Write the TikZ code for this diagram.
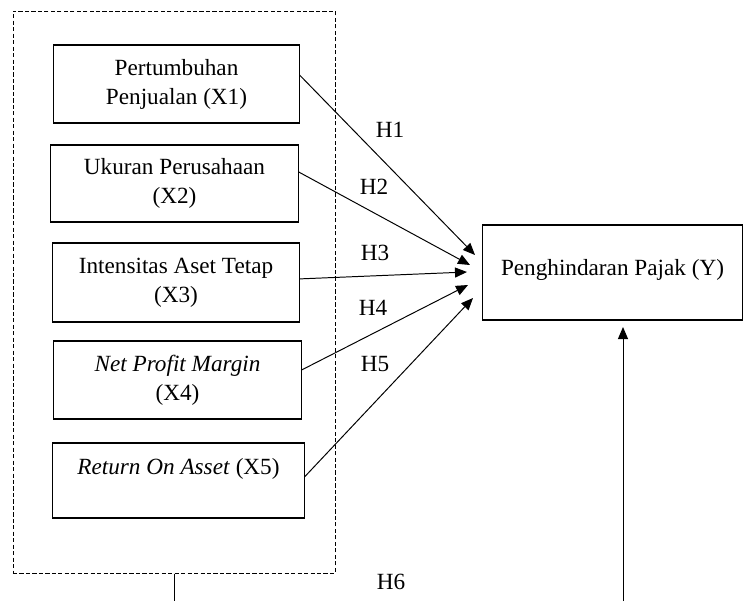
\documentclass[tikz,border=0pt]{standalone}
\usepackage{fontspec}
\setmainfont{Liberation Serif}
\usetikzlibrary{arrows.meta}
\begin{document}
\begin{tikzpicture}[x=0.025cm,y=-0.025cm,
  every node/.style={font=\fontsize{16.5pt}{20.6pt}\selectfont},
  var/.style={draw,line width=0.75pt,align=center,inner sep=0pt},
  hyp/.style={-{Triangle[length=3mm,width=2.5mm]},line width=0.7pt}]
\useasboundingbox (0,0) rectangle (744,601);

% group of independent variables
\node[draw,line width=0.6pt,dash pattern=on 3pt off 1.6pt,minimum width=8.05cm,minimum height=14.05cm] (grp) at (174,292) {};

\node[var,minimum width=6.125cm,minimum height=1.95cm] (x1) at (176.5,84) {Pertumbuhan\\Penjualan (X1)};
\node[var,minimum width=6.175cm,minimum height=1.925cm] (x2) at (174.5,183.5) {Ukuran Perusahaan\\(X2)};
\node[var,minimum width=6.15cm,minimum height=1.975cm] (x3) at (176,282.5) {Intensitas Aset Tetap\\(X3)};
\node[var,minimum width=6.175cm,minimum height=1.95cm] (x4) at (177.5,380) {\textit{Net Profit Margin}\\(X4)};
\node[var,minimum width=6.275cm,minimum height=1.875cm] (x5) at (178.5,480.5) {\textit{Return On Asset} (X5)\\\mbox{}};

\node[var,minimum width=6.475cm,minimum height=2.375cm] (y) at (612.5,272.5) {\raisebox{7pt}{Penghindaran Pajak (Y)}};

% arrow ends in front of Y
\coordinate (t1) at (475,255);
\coordinate (t2) at (470,265);
\coordinate (t3) at (467,272);
\coordinate (t4) at (468,285);
\coordinate (t5) at (473,298);
\coordinate (b1) at (174,601);
\coordinate (b2) at (623,601);
\coordinate (t6) at (623,327);

\draw[hyp] ([yshift=0.225cm]x1.east) -- (t1);
\draw[hyp] ([yshift=0.29cm]x2.east) -- (t2);
\draw[hyp] ([yshift=0.09cm]x3.east) -- (t3);
\draw[hyp] ([yshift=0.25cm]x4.east) -- (t4);
\draw[hyp] ([yshift=0.09cm]x5.east) -- (t5);

\draw[line width=0.7pt] (grp.south) -- (b1);
\draw[hyp] (b2) -- (t6);

\node (h1) at (390,130) {H1};
\node (h2) at (374,187) {H2};
\node (h3) at (375,253) {H3};
\node (h4) at (373,308) {H4};
\node (h5) at (375,364) {H5};
\node (h6) at (391,582) {H6};
\end{tikzpicture}
\end{document}
